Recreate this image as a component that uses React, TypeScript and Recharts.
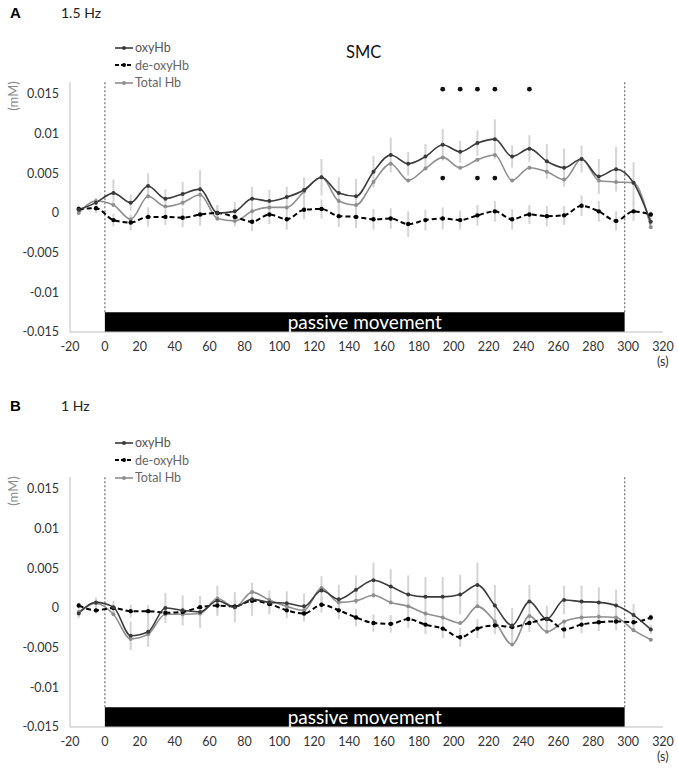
import React from 'react';
import { ComposedChart, Line, XAxis, YAxis, ErrorBar, ReferenceArea, ReferenceLine, ReferenceDot } from 'recharts';

// sample times (s), shared by both panels
const times = [
  -15, -5.1, 4.9, 14.8, 24.8, 34.7, 44.6, 54.6, 64.5, 74.5, 84.4, 94.3, 104.3, 114.2, 124.2, 134.1, 144,
  154, 163.9, 173.9, 183.8, 193.7, 203.7, 213.6, 223.6, 233.5, 243.4, 253.4, 263.3, 273.3, 283.2, 293.1, 303.1, 313,
];

// A: 1.5 Hz
const oxyA = [
  0.0004, 0.0013, 0.0025, 0.0013, 0.0034, 0.0018, 0.0024, 0.003, 0.0, 0.0002, 0.0018, 0.0015, 0.002, 0.0029, 0.0045, 0.0025, 0.0021,
  0.0052, 0.0073, 0.0062, 0.0071, 0.0086, 0.0077, 0.0088, 0.0093, 0.0071, 0.0081, 0.0065, 0.0057, 0.0068, 0.0046, 0.0055, 0.0038, -0.0011,
];
const deoxyA = [
  0.0005, 0.0006, -0.0009, -0.0012, -0.0005, -0.0005, -0.0006, -0.0002, 0.0, -0.0005, -0.0011, -0.0002, -0.0008, 0.0004, 0.0005, -0.0004, -0.0005,
  -0.0008, -0.0007, -0.0014, -0.0009, -0.0007, -0.0009, -0.0003, 0.0002, -0.0008, -0.0002, -0.0004, -0.0003, 0.0009, 0.0002, -0.001, 0.0002, -0.0002,
];
const totalA = [
  0.0, 0.0015, 0.001, -0.0008, 0.0021, 0.0008, 0.0013, 0.0023, -0.0007, -0.001, 0.0002, 0.0007, 0.0007, 0.0027, 0.0045, 0.0015, 0.001,
  0.0039, 0.0062, 0.0041, 0.0056, 0.007, 0.0057, 0.0067, 0.0073, 0.0041, 0.0057, 0.0052, 0.0042, 0.0068, 0.0041, 0.0039, 0.0038, -0.0018,
];
const oxyErrA = [
  0.0005, 0.0006, 0.0017, 0.001, 0.0016, 0.0012, 0.0015, 0.0024, 0.001, 0.0012, 0.0015, 0.0014, 0.0013, 0.0016, 0.0023, 0.002, 0.0022,
  0.002, 0.0022, 0.0015, 0.0016, 0.002, 0.0014, 0.0016, 0.0025, 0.0014, 0.0017, 0.0022, 0.0024, 0.0017, 0.0022, 0.0028, 0.0026, 0.0008,
];
const deoxyErrA = [
  0.0004, 0.0006, 0.0008, 0.001, 0.0012, 0.001, 0.0012, 0.0014, 0.001, 0.0012, 0.0012, 0.0012, 0.0013, 0.0012, 0.0012, 0.0014, 0.0014,
  0.0013, 0.0013, 0.0016, 0.0013, 0.0014, 0.0012, 0.0013, 0.0013, 0.0013, 0.0012, 0.0013, 0.0012, 0.0013, 0.0013, 0.0012, 0.0012, 0.0004,
];
const starsTopA = [193.7, 203.7, 213.6, 223.6, 243.4];
const starsLowA = [193.7, 213.6, 223.6];

// B: 1 Hz
const oxyB = [
  -0.0007, 0.0007, 0.0001, -0.0035, -0.003, 0.0, -0.0003, -0.0005, 0.0009, 0.0001, 0.0011, 0.0007, 0.0006, 0.0002, 0.0022, 0.0011, 0.0023,
  0.0035, 0.0027, 0.0017, 0.0014, 0.0014, 0.0017, 0.0029, 0.0003, -0.0022, 0.0008, -0.0014, 0.001, 0.0008, 0.0007, 0.0003, -0.0009, -0.0027,
];
const deoxyB = [
  0.0003, -0.0003, 0.0, -0.0004, -0.0004, -0.0006, -0.0005, 0.0001, 0.0003, 0.0002, 0.0009, 0.0005, -0.0003, -0.0007, 0.0004, -0.0003, -0.0012,
  -0.0019, -0.002, -0.0014, -0.0021, -0.0026, -0.0037, -0.0026, -0.0022, -0.0024, -0.0019, -0.0014, -0.0027, -0.0021, -0.0018, -0.0017, -0.0018, -0.0012,
];
const totalB = [
  -0.0005, 0.0006, -0.0008, -0.0039, -0.0033, -0.0008, -0.0008, -0.0007, 0.0012, 0.0001, 0.002, 0.001, 0.0002, -0.0003, 0.0025, 0.0007, 0.0009,
  0.0016, 0.0007, 0.0002, -0.0007, -0.0012, -0.0019, 0.0002, -0.0017, -0.0046, -0.001, -0.003, -0.0017, -0.0012, -0.0011, -0.0012, -0.0028, -0.004,
];
const oxyErrB = [
  0.0006, 0.0006, 0.0008, 0.0018, 0.0019, 0.0019, 0.0019, 0.002, 0.0019, 0.0019, 0.0021, 0.0015, 0.0015, 0.0016, 0.0018, 0.0018, 0.0018,
  0.0022, 0.0022, 0.0024, 0.0025, 0.0025, 0.0025, 0.0028, 0.0026, 0.0022, 0.0021, 0.0017, 0.0018, 0.002, 0.0019, 0.002, 0.0014, 0.0006,
];
const deoxyErrB = [
  0.0004, 0.0004, 0.0006, 0.0008, 0.0008, 0.0009, 0.0009, 0.001, 0.001, 0.001, 0.001, 0.001, 0.001, 0.001, 0.001, 0.0011, 0.0011,
  0.0011, 0.0011, 0.0011, 0.0012, 0.0012, 0.0012, 0.0012, 0.0011, 0.0011, 0.0011, 0.0011, 0.0011, 0.0011, 0.0011, 0.0011, 0.001, 0.0004,
];

const xTicks = [-20, 0, 20, 40, 60, 80, 100, 120, 140, 160, 180, 200, 220, 240, 260, 280, 300, 320];
const yTicks = [-0.015, -0.01, -0.005, 0, 0.005, 0.01, 0.015];
const moveStart = 0;
const moveEnd = 298;

const FONT = 'Lato, "Open Sans", sans-serif';
const OXY = '#3a3a3a';
const DEOXY = '#000000';
const TOTAL = '#8f8f8f';
const ERR = '#d4d4d4';

const buildRows = (oxy: number[], deoxy: number[], total: number[], oxyErr: number[], deoxyErr: number[]) =>
  times.map((t, i) => ({ t, oxy: oxy[i], deoxy: deoxy[i], total: total[i], oxyErr: oxyErr[i], deoxyErr: deoxyErr[i] }));

const legendItems = [
  { name: 'oxyHb', color: OXY, dash: undefined as string | undefined },
  { name: 'de-oxyHb', color: DEOXY, dash: '4 2' },
  { name: 'Total Hb', color: TOTAL, dash: undefined },
];

interface PanelProps {
  top: number;
  height: number;
  letter: string;
  freq: string;
  titleY: number;
  rows: ReturnType<typeof buildRows>;
  starsTop?: number[];
  starsLow?: number[];
  showSMC?: boolean;
}

const Panel: React.FC<PanelProps> = ({ top, height, letter, freq, titleY, rows, starsTop = [], starsLow = [], showSMC }) => (
  <div style={{ position: 'absolute', left: 0, top, width: 678, height, fontFamily: FONT }}>
    <ComposedChart width={678} height={height} data={rows} margin={{ top: 82, right: 15, bottom: height - 82 - 250 - 30, left: 0 }}>
      <XAxis
        type="number"
        dataKey="t"
        domain={[-20, 320]}
        ticks={xTicks}
        interval={0}
        allowDataOverflow
        axisLine={{ stroke: '#bdbdbd' }}
        tickLine={false}
        tickMargin={4}
        height={30}
        tick={{ fontSize: 12.5, fill: '#333', fontFamily: FONT }}
      />
      <YAxis
        type="number"
        domain={[-0.015, 0.0165]}
        ticks={yTicks}
        interval={0}
        allowDataOverflow
        width={70}
        axisLine={{ stroke: '#bdbdbd' }}
        tickLine={false}
        tickMargin={5}
        tick={{ fontSize: 12.5, fill: '#333', fontFamily: FONT }}
      />
      <ReferenceLine segment={[{ x: moveStart, y: -0.0125 }, { x: moveStart, y: 0.0165 }]} stroke="#777" strokeDasharray="2 2" strokeWidth={1.3} />
      <ReferenceLine segment={[{ x: moveEnd, y: -0.0125 }, { x: moveEnd, y: 0.0165 }]} stroke="#777" strokeDasharray="2 2" strokeWidth={1.3} />
      <Line id="oxyErrLine" dataKey="oxy" stroke="none" dot={false} activeDot={false} legendType="none" isAnimationActive={false}>
        <ErrorBar dataKey="oxyErr" direction="y" width={0} stroke={ERR} strokeWidth={2} />
      </Line>
      <Line id="deoxyErrLine" dataKey="deoxy" stroke="none" dot={false} activeDot={false} legendType="none" isAnimationActive={false}>
        <ErrorBar dataKey="deoxyErr" direction="y" width={0} stroke={ERR} strokeWidth={2} />
      </Line>
      <Line
        type="monotone"
        dataKey="total"
        stroke={TOTAL}
        strokeWidth={1.6}
        dot={{ r: 2, fill: TOTAL, strokeWidth: 0 }}
        activeDot={false}
        isAnimationActive={false}
      />
      <Line
        type="monotone"
        dataKey="deoxy"
        stroke={DEOXY}
        strokeWidth={2}
        strokeDasharray="5 3"
        dot={{ r: 2.2, fill: DEOXY, strokeWidth: 0 }}
        activeDot={false}
        isAnimationActive={false}
      />
      <Line
        type="monotone"
        dataKey="oxy"
        stroke={OXY}
        strokeWidth={1.6}
        dot={{ r: 2, fill: OXY, strokeWidth: 0 }}
        activeDot={false}
        isAnimationActive={false}
      />
      {starsTop.map((t) => (
        <ReferenceDot key={'st' + t} x={t} y={0.0156} r={2.4} fill="#111" stroke="none" />
      ))}
      {starsLow.map((t) => (
        <ReferenceDot key={'sl' + t} x={t} y={0.0044} r={2.4} fill="#111" stroke="none" />
      ))}
      <ReferenceArea
        x1={moveStart}
        x2={moveEnd}
        y1={-0.015}
        y2={-0.0125}
        fill="#000"
        fillOpacity={1}
        stroke="none"
        label={{ value: 'passive movement', position: 'center', fill: '#fff', fontSize: 19, fontFamily: FONT }}
      />
    </ComposedChart>

    <div style={{ position: 'absolute', left: 10, top: titleY - 9, fontSize: 15, fontWeight: 700, lineHeight: '18px', fontFamily: 'Arial, sans-serif' }}>
      {letter}
    </div>
    <div style={{ position: 'absolute', left: 61, top: titleY - 9, fontSize: 14, lineHeight: '18px', color: '#222' }}>{freq}</div>
    {showSMC && (
      <div style={{ position: 'absolute', left: 346, top: 42, fontSize: 16.5, lineHeight: '20px', color: '#111' }}>SMC</div>
    )}
    <div
      style={{
        position: 'absolute',
        left: 13,
        top: 96,
        transform: 'translate(-50%, -50%) rotate(-90deg)',
        fontSize: 13,
        color: '#8a8a8a',
        whiteSpace: 'nowrap',
      }}
    >
      (mM)
    </div>
    <div style={{ position: 'absolute', left: 657, top: 354, fontSize: 12.5, color: '#333', lineHeight: '16px' }}>(s)</div>
    <div style={{ position: 'absolute', left: 114, top: 39 }}>
      {legendItems.map((it) => (
        <div key={it.name} style={{ display: 'flex', alignItems: 'center', height: 17.5 }}>
          <svg width={20} height={8}>
            <line x1={1} y1={4} x2={19} y2={4} stroke={it.color} strokeWidth={it.dash ? 2 : 1.6} strokeDasharray={it.dash} />
            <circle cx={10} cy={4} r={2} fill={it.color} />
          </svg>
          <span style={{ fontSize: 12.5, color: it.name === 'oxyHb' ? '#555' : '#666', marginLeft: 1 }}>{it.name}</span>
        </div>
      ))}
    </div>
  </div>
);

const rowsA = buildRows(oxyA, deoxyA, totalA, oxyErrA, deoxyErrA);
const rowsB = buildRows(oxyB, deoxyB, totalB, oxyErrB, deoxyErrB);

export default function App() {
  return (
    <div style={{ position: 'absolute', left: 0, top: 0, width: 678, height: 771, background: '#fff', overflow: 'hidden' }}>
      <Panel top={0} height={385} letter="A" freq="1.5 Hz" titleY={13} rows={rowsA} starsTop={starsTopA} starsLow={starsLowA} showSMC />
      <Panel top={395} height={376} letter="B" freq="1 Hz" titleY={11} rows={rowsB} />
    </div>
  );
}
